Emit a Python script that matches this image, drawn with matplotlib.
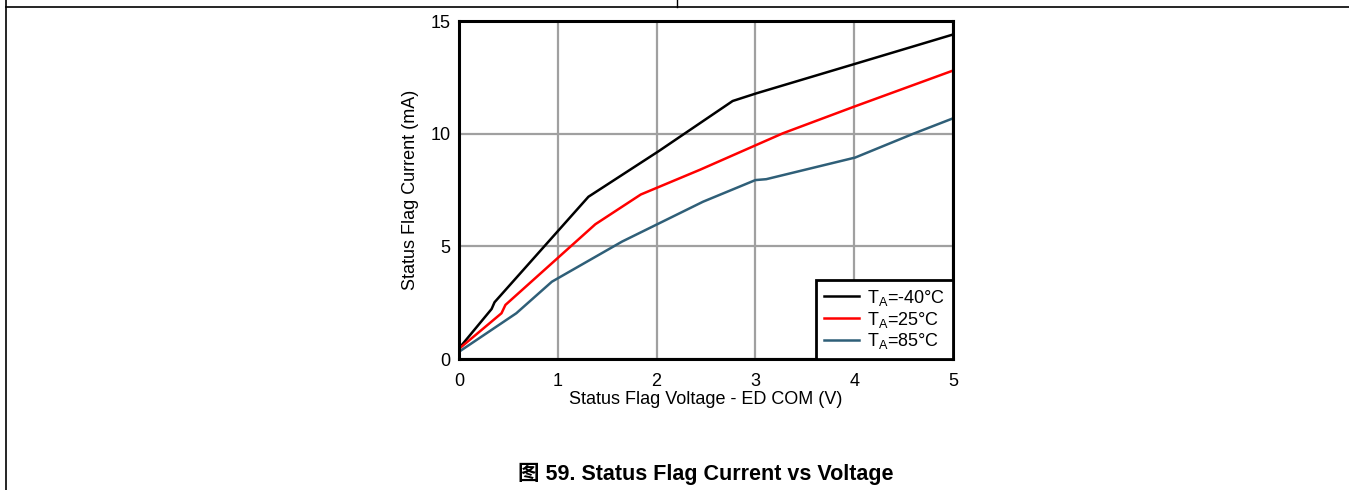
import numpy as np
import matplotlib.pyplot as plt
from matplotlib.lines import Line2D

plt.rcParams['font.family'] = ['Liberation Sans', 'Noto Sans CJK SC', 'DejaVu Sans']

# readings: voltage (V) vs current (mA)
v_m40 = [0, 0.33, 0.36, 1.31, 2.02, 2.77, 3.01, 4.01, 5.0]
i_m40 = [0.47, 2.22, 2.52, 7.2, 9.22, 11.45, 11.79, 13.1, 14.4]

v_25 = [0, 0.43, 0.47, 1.38, 1.84, 2.44, 3.01, 3.28, 4.0, 5.0]
i_25 = [0.45, 2.03, 2.40, 5.98, 7.3, 8.4, 9.5, 10.02, 11.2, 12.8]

v_85 = [0, 0.58, 0.94, 1.65, 2.47, 3.0, 3.11, 4.01, 4.6, 5.0]
i_85 = [0.32, 2.03, 3.43, 5.21, 6.98, 7.94, 7.98, 8.94, 10.0, 10.68]

labels = ['T$_\\mathregular{A}$=-40°C', 'T$_\\mathregular{A}$=25°C', 'T$_\\mathregular{A}$=85°C']
colors = ['#000000', '#ff0000', '#2f5f78']
xticks = [0, 1, 2, 3, 4, 5]
yticks = [0, 5, 10, 15]

fig = plt.figure(figsize=(13.49, 4.90), dpi=100)
ax = fig.add_axes([459/1349, 131/490, 494/1349, 338/490])

for v, i, lab, c in zip([v_m40, v_25, v_85], [i_m40, i_25, i_85], labels, colors):
    ax.plot(v, i, color=c, lw=1.8, label=lab, zorder=3)

ax.set_xlim(0, 5)
ax.set_ylim(0, 15)
ax.set_xticks(xticks)
ax.set_yticks(yticks)
ax.grid(True, color='#a0a0a0', lw=1.6)
ax.tick_params(length=0, labelsize=13)
ax.tick_params(axis='x', pad=10)
ax.tick_params(axis='y', pad=6)
for s in ax.spines.values():
    s.set_linewidth(2.2)
    s.set_zorder(4)

ax.set_xlabel('Status Flag Voltage - ED COM (V)', fontsize=13, labelpad=1)
ax.set_ylabel('Status Flag Current (mA)', fontsize=13, labelpad=8)

leg = ax.legend(loc='lower right', borderaxespad=0, fontsize=13, fancybox=False,
                framealpha=1, edgecolor='black', handlelength=1.95, labelspacing=0.1,
                borderpad=0.42, handletextpad=0.45)
leg.get_frame().set_linewidth(2.0)
leg.set_zorder(5)

fig.text(706/1349, 16/490, '图 59. Status Flag Current vs Voltage', ha='center', va='center',
         fontsize=15.5, fontweight='bold')

# page frame lines
fig.add_artist(Line2D([6/1349, 1], [1 - 7/490, 1 - 7/490], color='black', lw=1.2))
fig.add_artist(Line2D([6/1349, 6/1349], [0, 1], color='black', lw=1.2))
fig.add_artist(Line2D([677/1349, 677/1349], [1 - 7/490, 1], color='black', lw=1.0))

fig.savefig('out.png', dpi=100)
